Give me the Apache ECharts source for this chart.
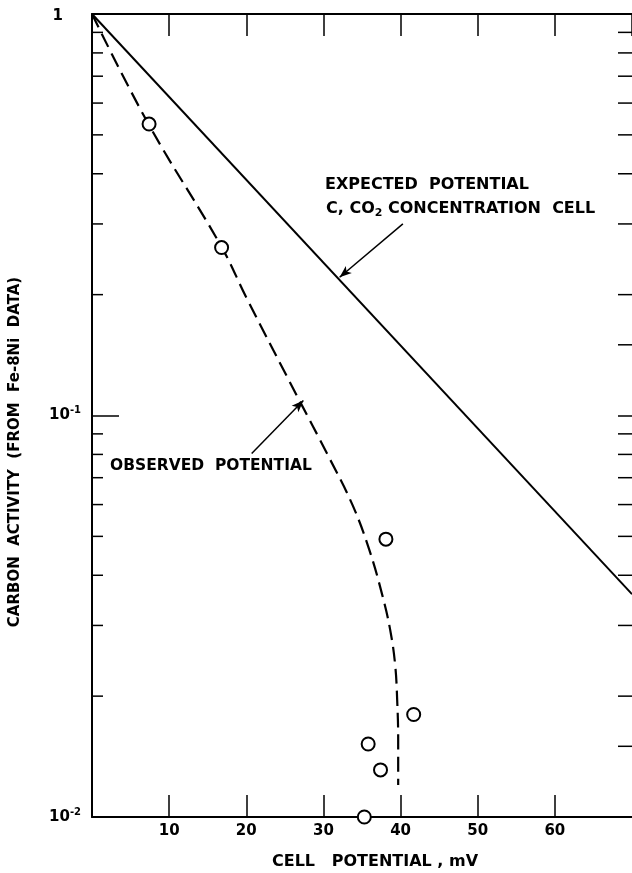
<!DOCTYPE html>
<html><head><meta charset="utf-8">
<script src="https://cdn.jsdelivr.net/npm/echarts@6/dist/echarts.min.js"></script>
<style>html,body{margin:0;padding:0;background:#fff}#c{width:632px;height:873px}</style>
</head><body><div id="c"></div>
<script>
// ---- data ----
const xTicks = [10, 20, 30, 40, 50, 60];
const expectedX = [0, 70];
const expectedY = [1, 0.0359];
const curveX = [0, 7.32, 16.79, 20.04, 26.71, 30.57, 33.78, 35.96, 37.63, 38.66, 39.30, 39.56, 39.69, 39.69];
const curveY = [1, 0.532, 0.263, 0.1962, 0.1106, 0.0797, 0.0598, 0.0462, 0.0357, 0.0292, 0.0239, 0.01956, 0.01555, 0.01202];
const obsX = [7.4, 16.8, 38.1, 41.7, 35.8, 37.4, 35.3];
const obsY = [0.532, 0.262, 0.0492, 0.0180, 0.0152, 0.0131, 0.0100];
const yMinorLeft = [0.9, 0.8, 0.7, 0.6, 0.5, 0.4, 0.3, 0.2, 0.09, 0.08, 0.07, 0.06, 0.05, 0.04, 0.03, 0.02];
const yMinorRight = [0.9, 0.8, 0.7, 0.6, 0.5, 0.4, 0.3, 0.2, 0.15, 0.09, 0.08, 0.07, 0.06, 0.05, 0.04, 0.03, 0.02, 0.015];
const arrowExpected = [[40.3, 0.300], [32.1, 0.221]];
const arrowObserved = [[20.7, 0.0804], [27.4, 0.109]];
const xTitle = 'CELL   POTENTIAL , mV';
const yTitle = 'CARBON  ACTIVITY  (FROM  Fe-8Ni  DATA)';

const FONT = '"DejaVu Sans", sans-serif';
const zip = (a, b) => a.map((v, i) => [v, b[i]]);
const chart = echarts.init(document.getElementById('c'), null, {renderer: 'canvas'});

const axisLine = {show: true, onZero: false, lineStyle: {color: '#000', width: 2}};
const option = {
  animation: false,
  backgroundColor: '#fff',
  grid: {left: 92, top: 14, width: 545, height: 803},
  xAxis: [
    {type: 'value', min: 0, max: 70, interval: 10, position: 'bottom',
      axisLine: axisLine,
      axisTick: {inside: true, length: 22, lineStyle: {color: '#000', width: 1.5}},
      axisLabel: {showMinLabel: false, showMaxLabel: false, color: '#000', fontFamily: FONT, fontWeight: 'bold', fontSize: 15, margin: 7,
        formatter: v => xTicks.includes(v) ? String(v) : ''},
      splitLine: {show: false}},
    {type: 'value', min: 0, max: 70, interval: 10, position: 'top',
      axisLine: axisLine,
      axisTick: {inside: true, length: 22, lineStyle: {color: '#000', width: 1.5}},
      axisLabel: {show: false}, splitLine: {show: false}}
  ],
  yAxis: [
    {type: 'log', logBase: 10, min: 0.01, max: 1, position: 'left',
      axisLine: axisLine,
      axisTick: {inside: true, length: 27, lineStyle: {color: '#000', width: 1.5}},
      axisLabel: {color: '#000', margin: 11,
        formatter: v => {
          if (Math.abs(v - 1) < 1e-9) return '{one|1}';
          const e = Math.round(Math.log10(v));
          return '{b|10}{s|' + e + '}';
        },
        rich: {
          one: {fontFamily: FONT, fontWeight: 'bold', fontSize: 15, color: '#000', padding: [4, 18, 0, 0]},
          b: {fontFamily: FONT, fontWeight: 'bold', fontSize: 15, color: '#000'},
          s: {fontFamily: FONT, fontWeight: 'bold', fontSize: 10, color: '#000', padding: [0, 0, 10, 0]}
        }},
      splitLine: {show: false}},
    {type: 'log', logBase: 10, min: 0.01, max: 1, position: 'right',
      axisLine: {show: false, onZero: false},
      axisTick: {inside: true, length: 14, lineStyle: {color: '#000', width: 1.5}},
      axisLabel: {show: false}, splitLine: {show: false}}
  ],
  series: [
    {type: 'custom', name: 'minorTicks', clip: false, silent: true,
      data: yMinorLeft.map(v => [0, v]).concat(yMinorRight.map(v => [70, v])),
      renderItem: (params, api) => {
        const side = api.value(0);
        const p = api.coord([side, api.value(1)]);
        const len = side === 0 ? 11 : -14;
        return {type: 'line', shape: {x1: p[0], y1: p[1], x2: p[0] + len, y2: p[1]},
          style: {stroke: '#000', lineWidth: 1.5}};
      }},
    {type: 'line', name: 'expected', data: zip(expectedX, expectedY), symbol: 'none',
      lineStyle: {color: '#000', width: 2}, z: 3,
      markLine: {silent: true, symbol: ['none', 'arrow'], symbolSize: [7, 12],
        lineStyle: {color: '#000', width: 1.5, type: 'solid'}, label: {show: false},
        data: [
          [{coord: arrowExpected[0]}, {coord: arrowExpected[1]}],
          [{coord: arrowObserved[0]}, {coord: arrowObserved[1]}]
        ]}},
    {type: 'line', name: 'observedCurve', data: zip(curveX, curveY), symbol: 'none', smooth: 0.4,
      lineStyle: {color: '#000', width: 2.2, type: [15, 7]}, z: 3},
    {type: 'scatter', name: 'observed', data: zip(obsX, obsY), symbol: 'circle', symbolSize: 13,
      itemStyle: {color: '#fff', borderColor: '#000', borderWidth: 2, opacity: 1}, z: 5}
  ],
  graphic: [
    {type: 'text', left: 325, top: 177, style: {text: 'EXPECTED  POTENTIAL', font: 'bold 16px ' + FONT, fill: '#000'}},
    {type: 'text', left: 326, top: 201, style: {
      text: '{t|C, CO}{sub|2}{t| CONCENTRATION  CELL}',
      rich: {t: {font: 'bold 16px ' + FONT, fill: '#000'}, sub: {font: 'bold 11px ' + FONT, fill: '#000', padding: [9, 0, 0, 0]}}}},
    {type: 'text', left: 110, top: 458, style: {text: 'OBSERVED  POTENTIAL', font: 'bold 15.5px ' + FONT, fill: '#000'}},
    {type: 'text', x: 375, y: 862, style: {text: xTitle, font: 'bold 16px ' + FONT, fill: '#000', align: 'center', verticalAlign: 'middle'}},
    {type: 'text', x: 15, y: 452, rotation: Math.PI / 2, style: {text: yTitle, font: 'bold 15px ' + FONT, fill: '#000', align: 'center', verticalAlign: 'middle'}}
  ]
};
chart.setOption(option);
</script>
</body></html>
